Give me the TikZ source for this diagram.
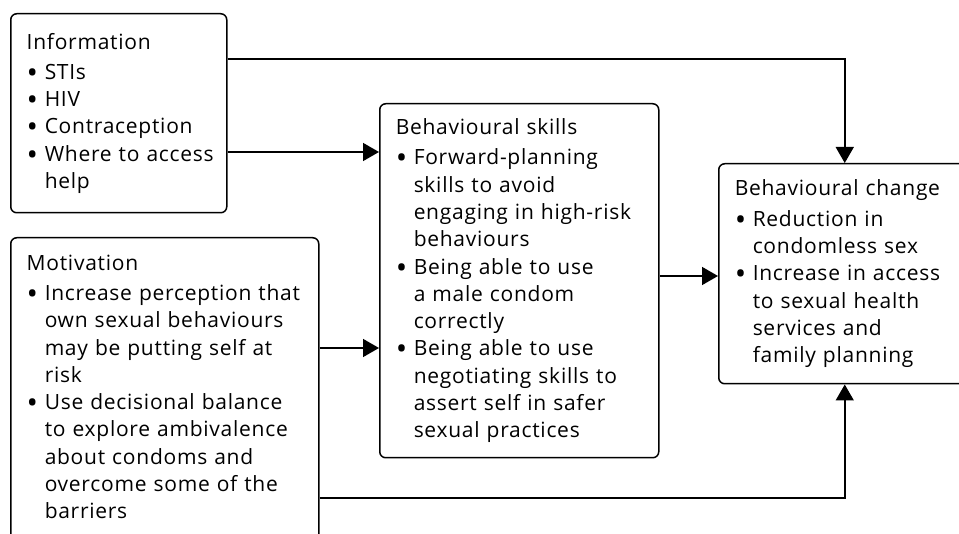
\documentclass[tikz,border=0pt]{standalone}
\usepackage{fontspec}
\setmainfont[LetterSpace=3.5]{Open Sans}
\usepackage{tikz}
\usetikzlibrary{arrows.meta}

% bullet line and continuation line of the lists
\newcommand{\bl}[1]{\makebox[18pt][l]{\smash{\raisebox{-4pt}{\scalebox{1.45}{\textbullet}}}}\mbox{#1}}
\newcommand{\ct}[1]{\hspace*{18pt}\mbox{#1}}

\tikzset{
  box/.style={draw, line width=1.5pt, rounded corners=6pt, anchor=north west,
    inner xsep=16pt, inner ysep=14pt, align=left,
    font=\fontsize{21}{27.3}\selectfont},
  arr/.style={line width=1.5pt, -{Triangle[length=16pt,width=18pt]}}
}

\begin{document}
\begin{tikzpicture}[x=1pt, y=-1pt]
	\useasboundingbox (0,0) rectangle (959,534);
	\clip (0,0) rectangle (959,534);

	\node[box, text width=184pt, minimum height=199pt] (info) at (10,13)
	  {\mbox{Information}\\[3pt]
	   \bl{STIs}\\
	   \bl{HIV}\\
	   \bl{Contraception}\\
	   \bl{Where to access}\\
	   \ct{help}};

	% runs on below the picture's edge
	\node[box, text width=276pt, inner ysep=17pt] (motiv) at (10,237)
	  {\mbox{Motivation}\\[3pt]
	   \bl{Increase perception that}\\
	   \ct{own sexual behaviours}\\
	   \ct{may be putting self at}\\
	   \ct{risk}\\
	   \bl{Use decisional balance}\\
	   \ct{to explore ambivalence}\\
	   \ct{about condoms and}\\
	   \ct{overcome some of the}\\
	   \ct{barriers}\\
	   \mbox{}};

	\node[box, text width=247pt, minimum height=354pt] (skills) at (379,103)
	  {\mbox{Behavioural skills}\\[3pt]
	   \bl{Forward-planning}\\
	   \ct{skills to avoid}\\
	   \ct{engaging in high-risk}\\
	   \ct{behaviours}\\
	   \bl{Being able to use}\\
	   \ct{a male condom}\\
	   \ct{correctly}\\
	   \bl{Being able to use}\\
	   \ct{negotiating skills to}\\
	   \ct{assert self in safer}\\
	   \ct{sexual practices}};

	\node[box, text width=220pt, minimum height=220pt] (change) at (718,163)
	  {\mbox{Behavioural change}\\[3pt]
	   \bl{Reduction in}\\
	   \ct{condomless sex}\\
	   \bl{Increase in access}\\
	   \ct{to sexual health}\\
	   \ct{services and}\\
	   \ct{family planning}};

	\draw[arr] (info.east |- 0,152) -- (skills.west |- 0,152);
	\draw[arr] (motiv.east |- 0,348) -- (skills.west |- 0,348);
	\draw[arr] (skills.east |- 0,276) -- (change.west |- 0,276);
	\draw[arr] (info.east |- 0,59) -| (change.north);
	\draw[arr] (motiv.east |- 0,498) -| (change.south);
\end{tikzpicture}
\end{document}
